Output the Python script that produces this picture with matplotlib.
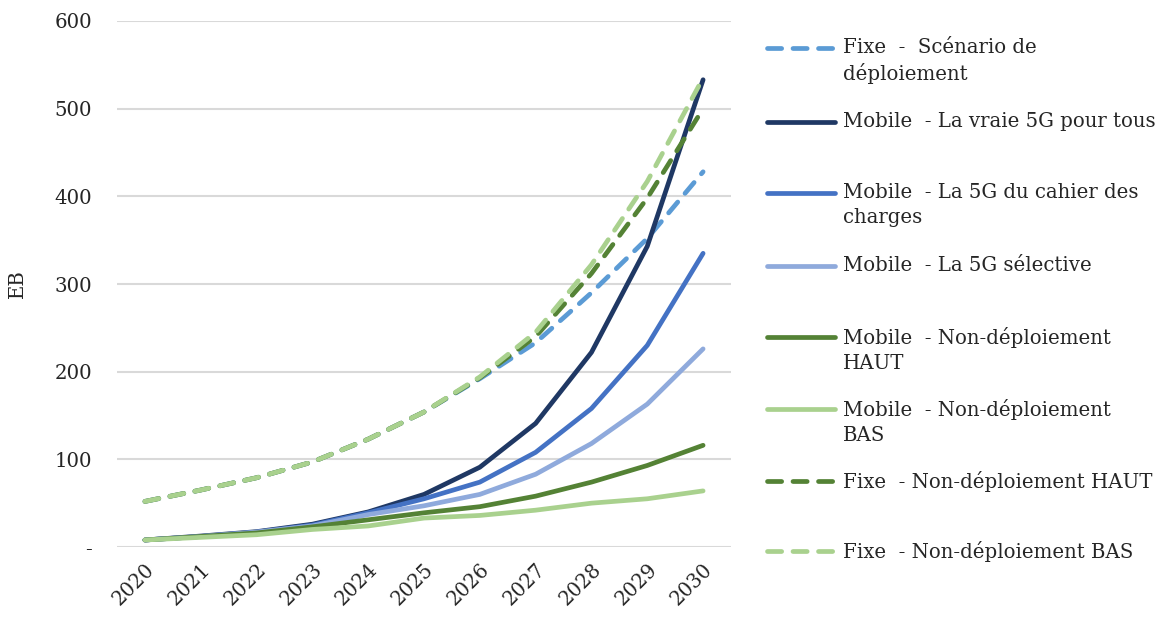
import matplotlib
matplotlib.use("Agg")
import matplotlib.pyplot as plt
from matplotlib.lines import Line2D

plt.rcParams['font.family'] = ['DejaVu Serif']

years = ["2020", "2021", "2022", "2023", "2024", "2025", "2026", "2027", "2028", "2029", "2030"]

fixe_scenario = [52, 65, 79, 97, 123, 154, 192, 233, 290, 352, 428]
mobile_vraie_5g = [8, 12.5, 17.5, 26, 40, 60, 91, 141, 222, 343, 533]
mobile_cahier = [8, 12, 17, 25, 39, 55, 74, 108, 158, 230, 335]
mobile_selective = [8, 12, 17, 24, 37, 47, 60, 83, 118, 163, 226]
mobile_nd_haut = [8, 12, 16, 23, 31, 39, 46, 58, 74, 93, 116]
mobile_nd_bas = [8, 11, 14, 20, 24, 33, 36, 42, 50, 55, 64]
fixe_nd_haut = [52, 65, 79, 97, 123, 154, 193, 240, 312, 398, 500]
fixe_nd_bas = [52, 65, 79, 97, 123, 154, 194, 245, 322, 417, 535]

series = [
    ("Fixe  -  Scénario de\ndéploiement", fixe_scenario, "#5B9BD5", True),
    ("Mobile  - La vraie 5G pour tous", mobile_vraie_5g, "#1F3864", False),
    ("Mobile  - La 5G du cahier des\ncharges", mobile_cahier, "#4472C4", False),
    ("Mobile  - La 5G sélective", mobile_selective, "#8FAADC", False),
    ("Mobile  - Non-déploiement\nHAUT", mobile_nd_haut, "#548235", False),
    ("Mobile  - Non-déploiement\nBAS", mobile_nd_bas, "#A9D18E", False),
    ("Fixe  - Non-déploiement HAUT", fixe_nd_haut, "#548235", True),
    ("Fixe  - Non-déploiement BAS", fixe_nd_bas, "#A9D18E", True),
]

yticks = [0, 100, 200, 300, 400, 500, 600]
ytick_labels = ["-", "100", "200", "300", "400", "500", "600"]

text_color = "#262626"
fs = 14.2
lw = 3.4
dash_pattern = (3.0, 2.4)

fig = plt.figure(figsize=(11.65, 6.2), dpi=100)
ax = fig.add_axes([117 / 1165, 1 - 547 / 620, (731 - 117) / 1165, (547 - 21) / 620])

x = list(range(len(years)))
for label, vals, color, dashed in series:
    line, = ax.plot(x, vals, color=color, lw=lw, solid_capstyle='round',
                    dash_capstyle='round', solid_joinstyle='round')
    if dashed:
        line.set_dashes(dash_pattern)

ax.set_xlim(-0.5, len(years) - 0.5)
ax.set_ylim(0, 600)
ax.set_yticks(yticks)
ax.set_yticklabels(ytick_labels, fontsize=fs, color=text_color)
ax.set_xticks(x)
ax.set_xticklabels(years, fontsize=fs, color=text_color, rotation=45,
                   ha='right', rotation_mode='anchor')
ax.tick_params(axis='y', length=0, pad=18)
ax.tick_params(axis='x', length=0, pad=9)
ax.yaxis.grid(True, color="#D9D9D9", lw=1.5)
ax.set_axisbelow(True)
for s in ax.spines.values():
    s.set_visible(False)
ax.set_ylabel("EB", fontsize=fs, color=text_color, labelpad=20)

# Legend drawn by hand so the handle lines up with the first text line
legend_y = [48, 122, 193, 266, 337, 409, 481, 551]
for (label, vals, color, dashed), py in zip(series, legend_y):
    yf = 1 - py / 620
    h = Line2D([767 / 1165, 835 / 1165], [yf, yf], transform=fig.transFigure,
               color=color, lw=lw, solid_capstyle='round', dash_capstyle='round')
    if dashed:
        h.set_dashes(dash_pattern)
    fig.add_artist(h)
    fig.text(843 / 1165, yf + 10 / 620, label, fontsize=fs, color=text_color,
             va='top', ha='left', linespacing=1.38,
             transform=fig.transFigure)

fig.savefig("out.png", dpi=100)
